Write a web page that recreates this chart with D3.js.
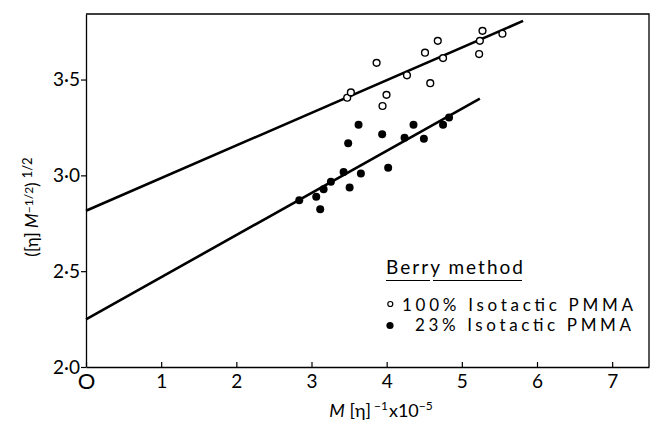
<!DOCTYPE html>
<html><head><meta charset="utf-8">
<script src="https://cdn.jsdelivr.net/npm/d3@7/dist/d3.min.js"></script>
<style>
html,body{margin:0;padding:0;background:#fff;}
svg{display:block;}
text{font-family:Lato,"DejaVu Sans",sans-serif;fill:#000;}
</style></head>
<body>
<svg id="chart" width="651" height="423"></svg>
<script>
// ---- data ----
const xTicks = [0, 1, 2, 3, 4, 5, 6, 7];
const xTickLabels = ["O", "1", "2", "3", "4", "5", "6", "7"];
const yTicks = [2.0, 2.5, 3.0, 3.5];
const yTickLabels = ["2·0", "2·5", "3·0", "3·5"];
const seriesNames = ["100% Isotactic PMMA", "23% Isotactic PMMA"];
const legendTitle = "Berry method";

const iso100X = [3.475, 3.524, 3.866, 3.945, 3.998, 4.27, 4.51, 4.58, 4.68, 4.75, 5.23, 5.24, 5.275, 5.54];
const iso100Y = [3.405, 3.433, 3.587, 3.362, 3.420, 3.522, 3.640, 3.481, 3.702, 3.612, 3.633, 3.702, 3.754, 3.739];

const iso23X = [2.837, 3.063, 3.116, 3.161, 3.258, 3.427, 3.488, 3.507, 3.626, 3.657, 3.94, 4.02, 4.238, 4.357, 4.495, 4.75, 4.83];
const iso23Y = [2.870, 2.888, 2.823, 2.927, 2.967, 3.017, 3.167, 2.937, 3.264, 3.010, 3.214, 3.040, 3.196, 3.264, 3.191, 3.264, 3.302];

const fit100X = [0, 5.815];
const fit100Y = [2.815, 3.806];
const fit23X = [0, 5.24];
const fit23Y = [2.249, 3.40];

// ---- layout ----
const svg = d3.select("#chart");
const x = d3.scaleLinear().domain([0, 7.49]).range([86, 649]);
const y = d3.scaleLinear().domain([2.0, 3.842]).range([367, 14]);

// frame (top and right)
svg.append("path")
  .attr("d", `M${x(0)},${y(3.842)}H${x(7.49)}V${y(2.0)}`)
  .attr("fill", "none").attr("stroke", "#000").attr("stroke-width", 1.3);

// x axis
const xAxis = svg.append("g").attr("transform", `translate(0,${y(2.0)})`)
  .call(d3.axisBottom(x).tickValues(xTicks).tickSize(-5).tickSizeOuter(0).tickPadding(8)
    .tickFormat((d, i) => xTickLabels[i]));
xAxis.select(".domain").attr("stroke-width", 1.3);
xAxis.selectAll(".tick line").attr("stroke-width", 1.2);
xAxis.selectAll(".tick text").style("font-size", "19px").style("font-family", "Lato,sans-serif");
xAxis.selectAll(".tick text").filter((d) => d === 0).style("font-size", "22px").attr("dy", "0.62em");

// y axis
const yAxis = svg.append("g").attr("transform", `translate(${x(0)},0)`)
  .call(d3.axisLeft(y).tickValues(yTicks).tickSize(5).tickSizeOuter(0).tickPadding(1)
    .tickFormat((d, i) => yTickLabels[i]));
yAxis.select(".domain").attr("stroke-width", 1.3);
yAxis.selectAll(".tick line").attr("stroke-width", 1.2);
yAxis.selectAll(".tick text").style("font-size", "19px").style("font-family", "Lato,sans-serif");

// fit lines
const line = d3.line().x(d => x(d[0])).y(d => y(d[1]));
svg.append("path").attr("d", line(fit100X.map((v, i) => [v, fit100Y[i]])))
  .attr("stroke", "#000").attr("stroke-width", 2.6).attr("fill", "none");
svg.append("path").attr("d", line(fit23X.map((v, i) => [v, fit23Y[i]])))
  .attr("stroke", "#000").attr("stroke-width", 2.6).attr("fill", "none");

// points
svg.append("g").selectAll("circle").data(iso100X.map((v, i) => [v, iso100Y[i]])).join("circle")
  .attr("cx", d => x(d[0])).attr("cy", d => y(d[1])).attr("r", 3.4)
  .attr("fill", "#fff").attr("stroke", "#000").attr("stroke-width", 1.4);
svg.append("g").selectAll("circle").data(iso23X.map((v, i) => [v, iso23Y[i]])).join("circle")
  .attr("cx", d => x(d[0])).attr("cy", d => y(d[1])).attr("r", 4)
  .attr("fill", "#000");

// axis titles
const yt = svg.append("text").attr("transform", "translate(38,207) rotate(-90)")
  .attr("text-anchor", "middle").style("font-size", "17px");
yt.append("tspan").text("([η] ");
yt.append("tspan").style("font-style", "italic").text("M");
yt.append("tspan").attr("dy", -5).style("font-size", "12px").text("−1/2");
yt.append("tspan").attr("dy", 5).text(")");
yt.append("tspan").attr("dy", -6).attr("dx", 4).style("font-size", "13px").text("1/2");

const xt = svg.append("text").attr("x", 381).attr("y", 417)
  .attr("text-anchor", "middle").style("font-size", "18px");
xt.append("tspan").style("font-style", "italic").text("M");
xt.append("tspan").text(" [η]");
xt.append("tspan").attr("dy", -7).style("font-size", "12px").text(" −1");
xt.append("tspan").attr("dy", 7).attr("dx", 1).text("x10");
xt.append("tspan").attr("dy", -7).style("font-size", "12px").text("−5");

// legend
svg.append("text").attr("x", 386).attr("y", 274).attr("textLength", 137)
  .attr("lengthAdjust", "spacing").style("font-size", "19px").text(legendTitle);
svg.append("line").attr("x1", 386).attr("x2", 430).attr("y1", 280.5).attr("y2", 280.5)
  .attr("stroke", "#000").attr("stroke-width", 1.2);
svg.append("line").attr("x1", 433).attr("x2", 522).attr("y1", 280.5).attr("y2", 280.5)
  .attr("stroke", "#000").attr("stroke-width", 1.2);
svg.append("circle").attr("cx", 390.3).attr("cy", 304).attr("r", 2.5)
  .attr("fill", "#fff").attr("stroke", "#000").attr("stroke-width", 1.2);
svg.append("text").attr("x", 402).attr("y", 310.5).attr("textLength", 231)
  .attr("lengthAdjust", "spacing").style("font-size", "17px").text(seriesNames[0]);
svg.append("circle").attr("cx", 390).attr("cy", 325.5).attr("r", 3.6).attr("fill", "#000");
svg.append("text").attr("x", 415).attr("y", 331).attr("textLength", 216)
  .attr("lengthAdjust", "spacing").style("font-size", "17px").text(seriesNames[1]);
</script>
</body></html>
